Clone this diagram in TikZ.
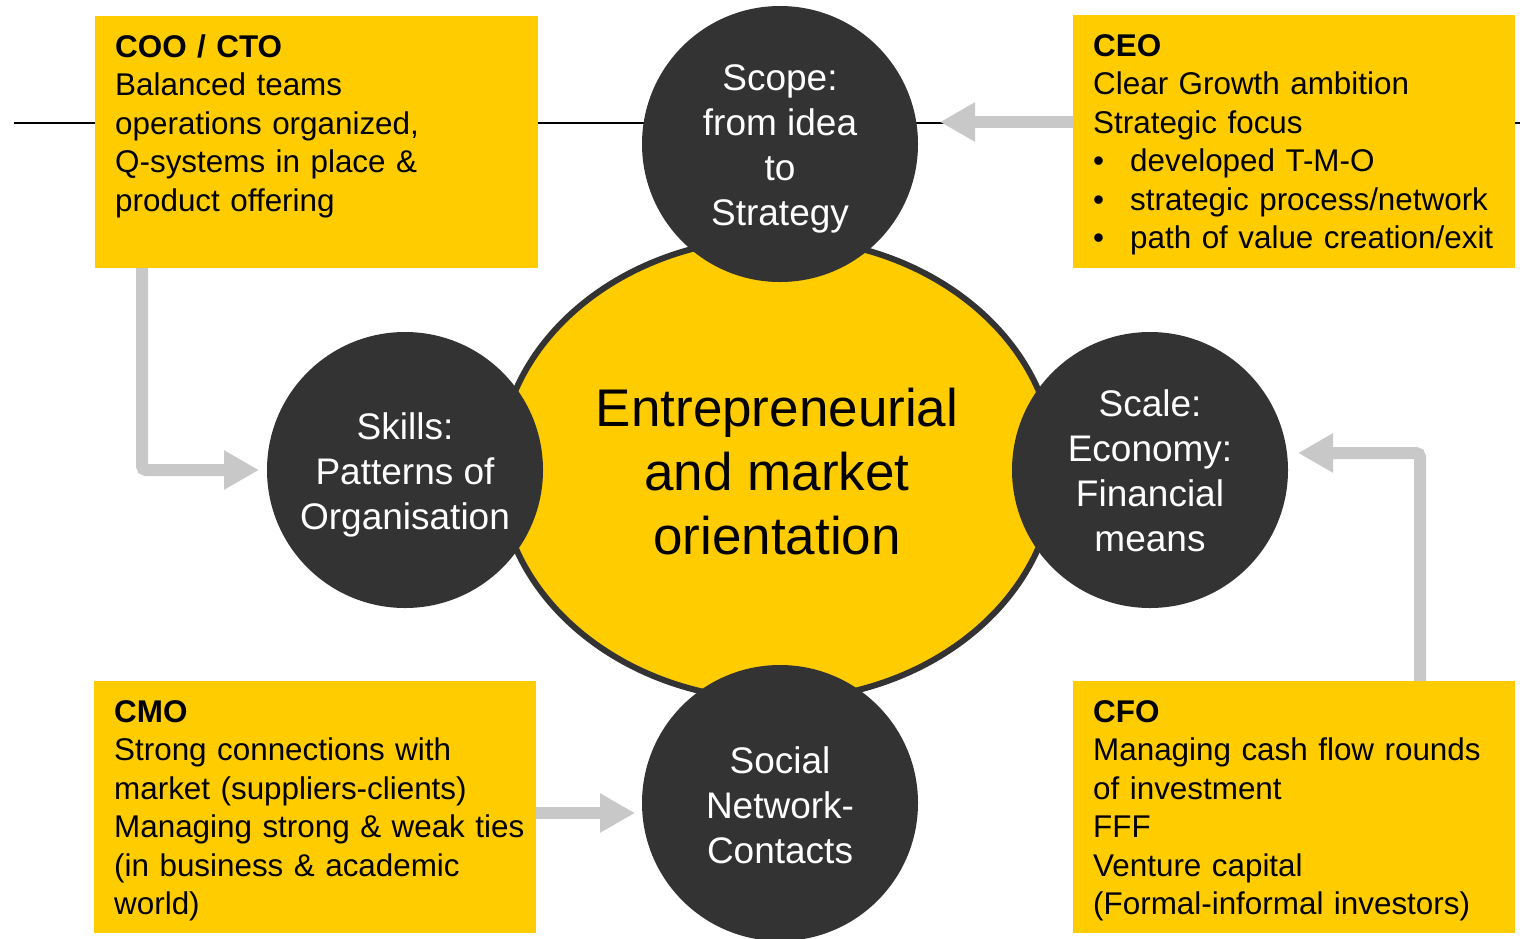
\documentclass[tikz,border=0pt]{standalone}
\usepackage{fontspec}
\setmainfont{Liberation Sans}
\usetikzlibrary{shapes.geometric,arrows.meta}
\definecolor{ybox}{HTML}{FFCC00}
\definecolor{dark}{HTML}{333333}
\definecolor{agrey}{HTML}{C8C8C8}
\tikzset{
  box/.style={fill=ybox, draw=none},
  boxtext/.style={anchor=base west, inner sep=0pt, text width=420pt, align=left,
    font=\fontsize{31.4}{38.5}\selectfont},
  circ/.style={circle, fill=dark, draw=none, minimum size=276pt, inner sep=0pt},
  circtext/.style={text=white, align=center, font=\fontsize{37}{45}\selectfont, inner sep=0pt},
  fatarrow/.style={draw=agrey, line width=12pt, rounded corners=4pt,
    -{Triangle[length=35pt,width=37pt]}},
}
\begin{document}
\begin{tikzpicture}[x=1pt,y=-1pt]
\useasboundingbox (0,0) rectangle (1520,938);
% horizontal line
\coordinate (lineL) at (14,123);
\coordinate (lineR) at (1520,123);
\draw[line width=2pt, black] (lineL) -- (lineR);
% boxes
\fill[box] (95,16) rectangle (538,268);
\fill[box] (1073,15) rectangle (1515,268);
\fill[box] (94,681) rectangle (536,933);
\fill[box] (1073,681) rectangle (1515,933);
\node (coo) [boxtext] at (115,57) {\textbf{COO / CTO}\\Balanced teams\\operations organized,\\Q-systems in place \&\\product offering};
\node (ceo) [boxtext] at (1093,56) {\textbf{CEO}\\Clear Growth ambition\\Strategic focus\\\makebox[37pt][l]{•}developed T-M-O\\\makebox[37pt][l]{•}strategic process/network\\\makebox[37pt][l]{•}path of value creation/exit};
\node (cmo) [boxtext] at (114,722) {\textbf{CMO}\\Strong connections with\\market (suppliers-clients)\\Managing strong \& weak ties\\(in business \& academic\\world)};
\node (cfo) [boxtext] at (1093,722) {\textbf{CFO}\\Managing cash flow rounds\\of investment\\FFF\\Venture capital\\(Formal-informal investors)};
% central ellipse
\node (center) [ellipse, fill=ybox, draw=dark, line width=6pt, minimum width=556pt, minimum height=462pt,
  inner sep=0pt] at (777,469) {};
\node (centert) [inner sep=0pt, align=center, font=\fontsize{53}{64}\selectfont] at (777,472)
  {Entrepreneurial\\and market\\orientation};
% circles
\node (scope) [circ] at (780,144) {};
\node (scopet) [circtext] at (780,149) {Scope:\\from idea\\to\\Strategy};
\node (skills) [circ] at (405,470) {};
\node (skillst) [circtext] at (405,475) {Skills:\\Patterns of\\Organisation};
\node (scale) [circ] at (1150,470) {};
\node (scalet) [circtext] at (1150,471) {Scale:\\Economy:\\Financial\\means};
\node (social) [circ] at (780,803) {};
\node (socialt) [circtext] at (780,805) {Social\\Network-\\Contacts};
% arrows
\coordinate (ceoA) at (1073,122);
\coordinate (ceoT) at (940,122);
\draw[fatarrow] (ceoA) -- (ceoT);
\coordinate (cooA) at (142,268);
\coordinate (cooB) at (142,470);
\coordinate (cooT) at (259,470);
\draw[fatarrow] (cooA) -- (cooB) -- (cooT);
\coordinate (cfoA) at (1420,681);
\coordinate (cfoB) at (1420,453);
\coordinate (cfoT) at (1298,453);
\draw[fatarrow] (cfoA) -- (cfoB) -- (cfoT);
\coordinate (cmoA) at (536,813);
\coordinate (cmoT) at (635,813);
\draw[fatarrow] (cmoA) -- (cmoT);
\end{tikzpicture}
\end{document}
